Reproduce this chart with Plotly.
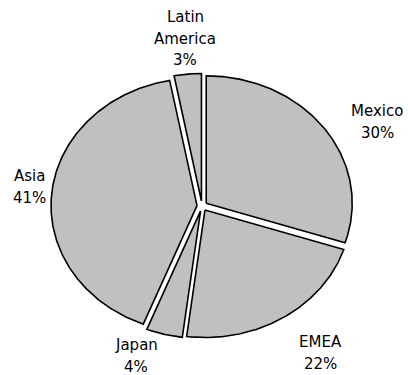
import numpy as np
import plotly.graph_objects as go

# ---- data ----
categories = ["Mexico", "EMEA", "Japan", "Asia", "Latin America"]
shares = [30, 22, 4, 41, 3]
label_lines = [["Mexico"], ["EMEA"], ["Japan"], ["Asia"], ["Latin", "America"]]

# ---- layout / style (pixel space of 408x375 canvas) ----
W, H = 408, 375
CX, CY = 202.0, 206.0
RX, RY = 146.0, 127.5
PULL = 5.0
FILL = "#c0c0c0"
FONT = dict(family="DejaVu Sans, Arial, sans-serif", size=15, color="black")
LINE_STEP = 21.5
# label anchor (x centre, y of first line) per category
label_pos = [(377, 111), (320, 342), (136, 345), (29, 176), (185, 17)]

fig = go.Figure()

total = float(sum(shares))
start = 0.0
for cat, val in zip(categories, shares):
    a0 = start
    a1 = start + 360.0 * val / total
    start = a1
    mid = np.radians((a0 + a1) / 2)
    dx, dy = RX * np.sin(mid), -RY * np.cos(mid)
    n = np.hypot(dx, dy)
    ox, oy = PULL * dx / n, PULL * dy / n
    th = np.radians(np.linspace(a0, a1, max(8, int((a1 - a0) * 2))))
    xs = np.concatenate([[CX], CX + RX * np.sin(th), [CX]]) + ox
    ys = np.concatenate([[CY], CY - RY * np.cos(th), [CY]]) + oy
    fig.add_trace(go.Scatter(
        x=xs, y=ys, mode="lines", fill="toself", fillcolor=FILL,
        line=dict(color="black", width=1.6), name=cat,
        hoverinfo="name", showlegend=False,
    ))

annotations = []
for lines, val, (lx, ly) in zip(label_lines, shares, label_pos):
    all_lines = lines + [f"{val}%"]
    for i, t in enumerate(all_lines):
        annotations.append(dict(
            x=lx, y=ly + i * LINE_STEP, text=t, showarrow=False,
            xref="x", yref="y", xanchor="center", yanchor="middle",
            font=FONT,
        ))

fig.update_layout(
    width=W, height=H,
    margin=dict(l=0, r=0, t=0, b=0),
    paper_bgcolor="white", plot_bgcolor="white",
    xaxis=dict(range=[0, W], visible=False, fixedrange=True),
    yaxis=dict(range=[H, 0], visible=False, fixedrange=True),
    annotations=annotations,
    showlegend=False,
)

fig.write_html(
    "out.html",
    config={"displayModeBar": False},
    post_script="document.body.style.margin='0';document.body.style.overflow='hidden';",
)
